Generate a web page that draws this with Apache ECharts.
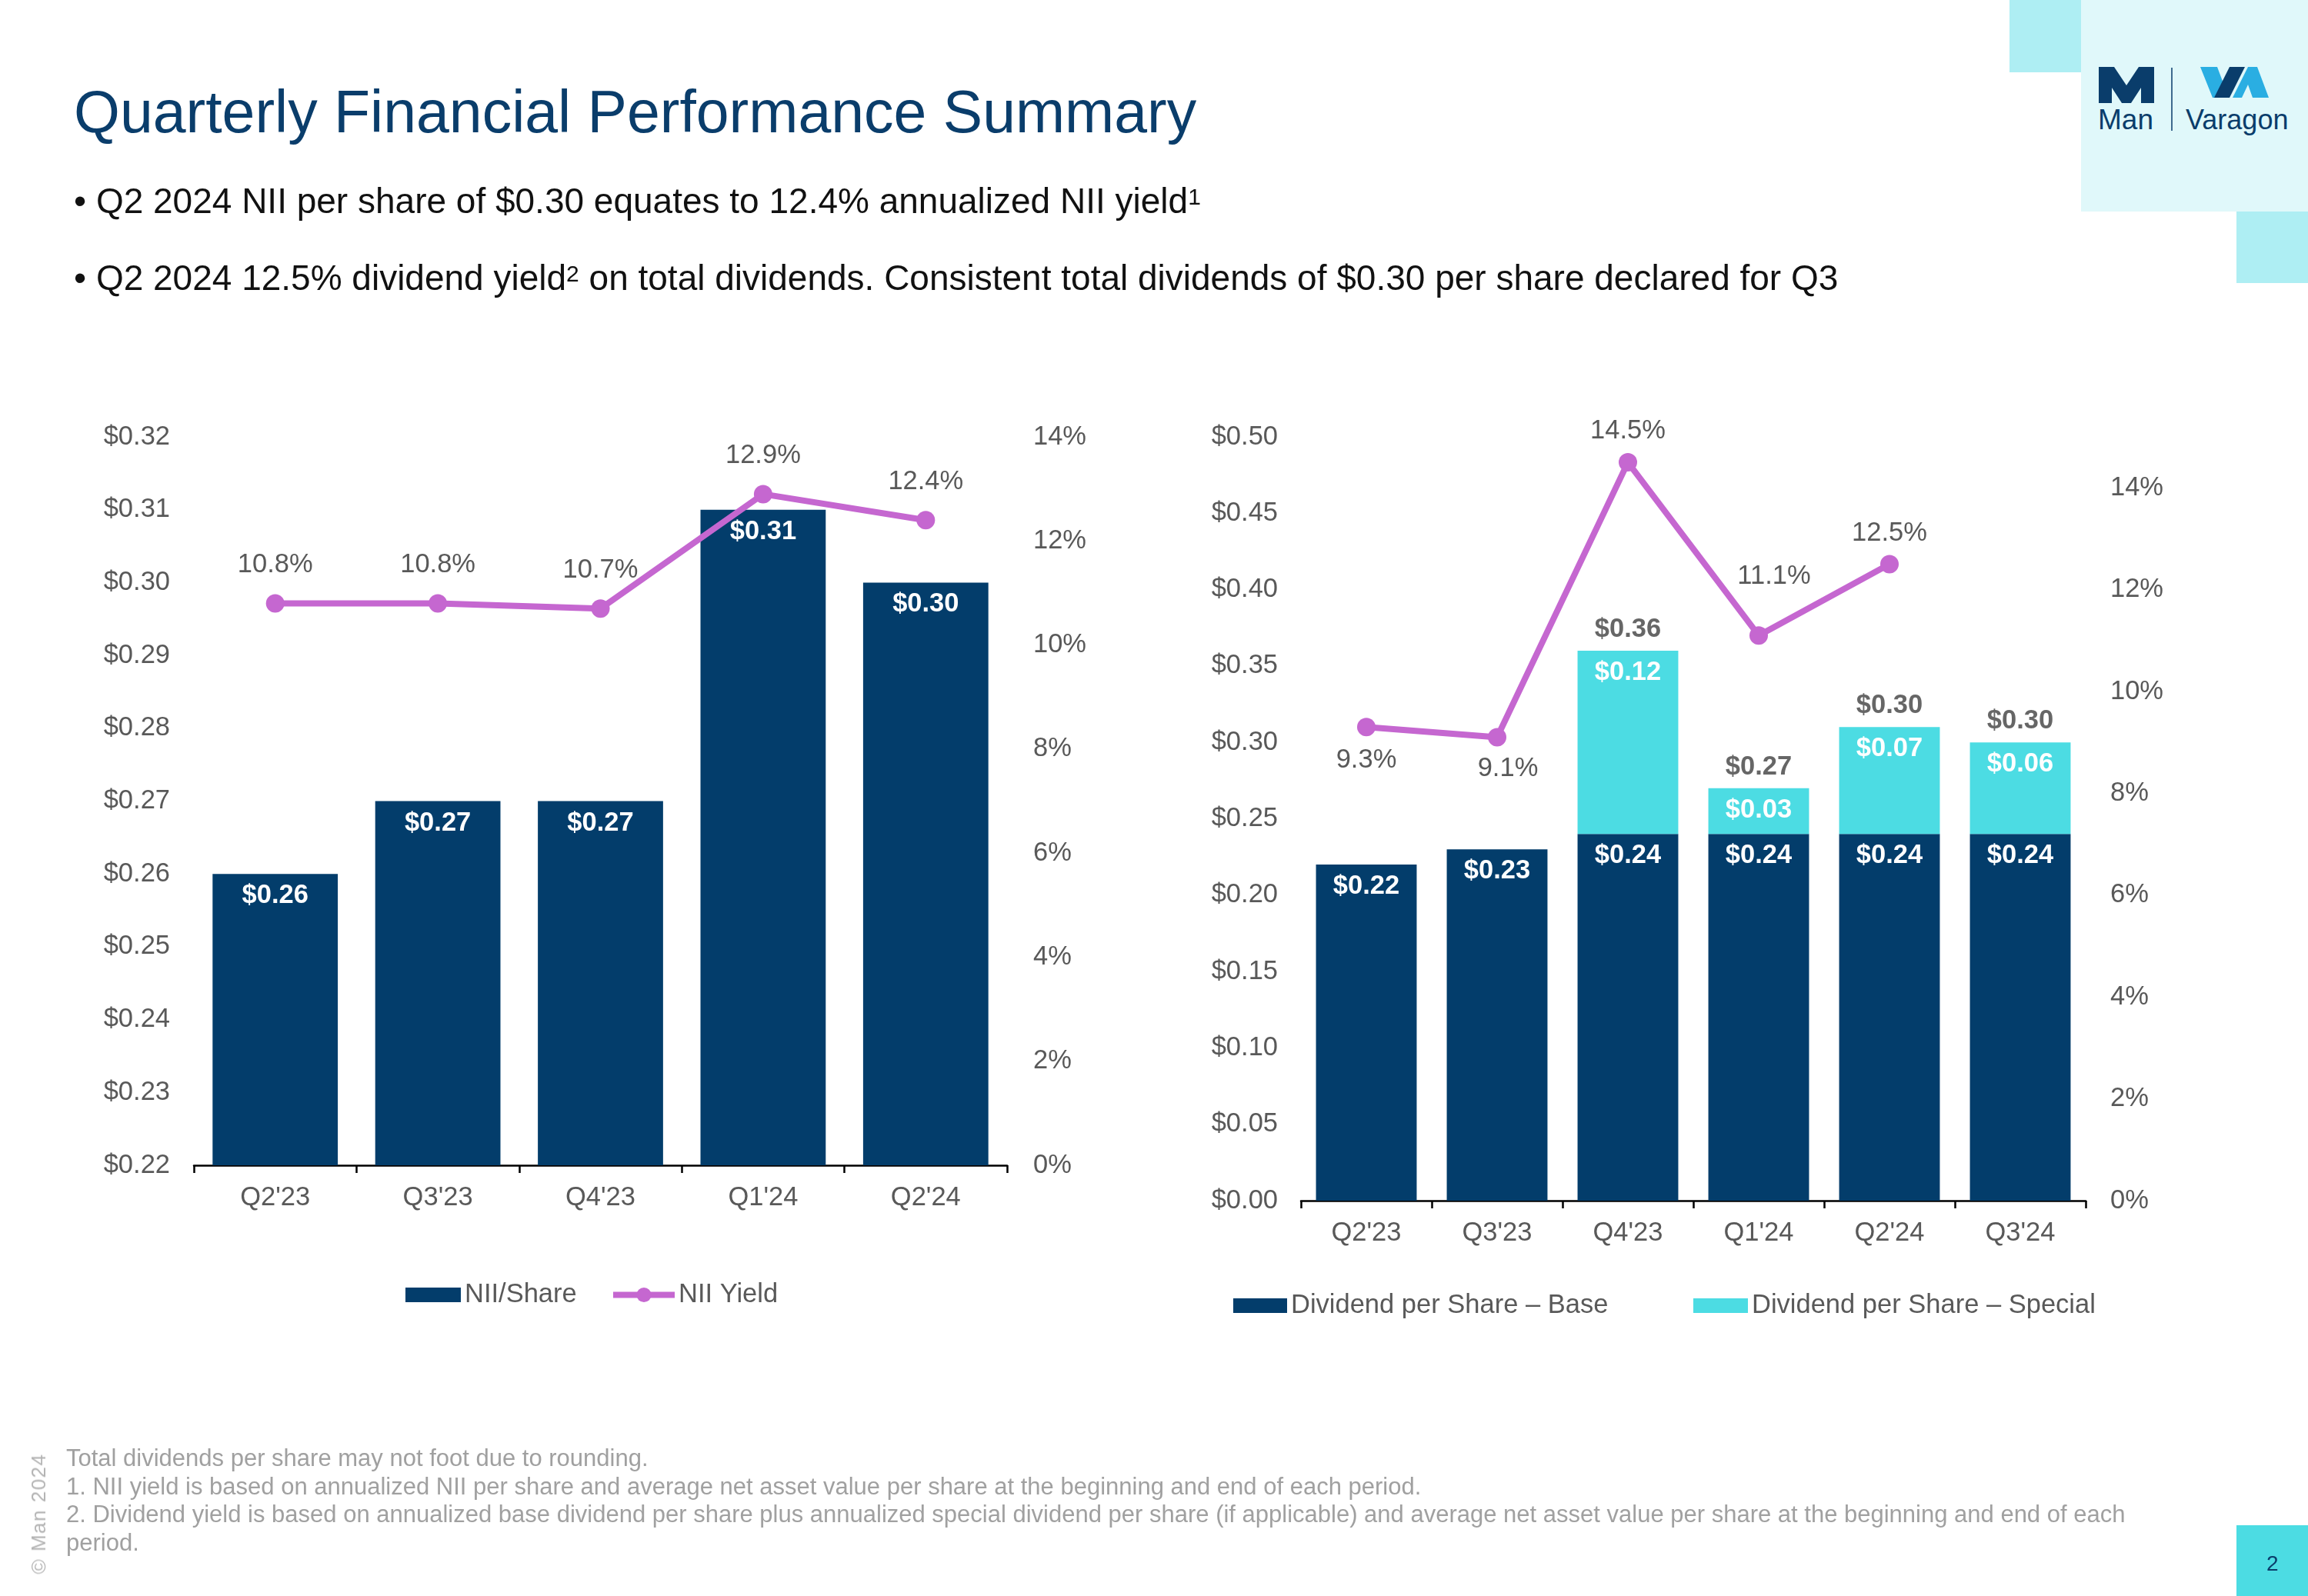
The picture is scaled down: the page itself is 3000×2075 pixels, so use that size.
<!DOCTYPE html>
<html>
<head>
<meta charset="utf-8">
<script src="https://cdn.jsdelivr.net/npm/echarts@6/dist/echarts.min.js"></script>
<style>
  html, body { margin:0; padding:0; }
  body { width:3000px; height:2075px; position:relative; overflow:hidden; background:#fff;
         font-family:"Liberation Sans", Arial, sans-serif; }
  #chart { position:absolute; left:0; top:0; width:3000px; height:2075px; }
  .txt { position:absolute; white-space:nowrap; }
  .title { left:96px; top:107px; font-size:77px; line-height:77px; color:#0a3d6b; }
  .bullet { left:96px; font-size:46px; line-height:46px; color:#111; }
  .bullet sup { font-size:30px; vertical-align:top; position:relative; top:-5px; }
  .footer { left:86px; top:1878px; font-size:31px; line-height:36.6px; color:#a0a0a0; }
  .copy { left:50px; top:1968px; font-size:26px; line-height:26px; color:#b4b4b4;
          transform:translate(-50%,-50%) rotate(-90deg); letter-spacing:1.5px; }
  .pagenum { left:2946px; top:2018px; font-size:28px; line-height:30px; color:#0a3d6b; }
</style>
</head>
<body>
<div id="chart"></div>

<svg style="position:absolute;left:0;top:0" width="3000" height="2075">
  <rect x="2705" y="0" width="295" height="275" fill="#e0f8fa"/>
  <rect x="2612" y="0" width="93" height="94" fill="#aeeef3"/>
  <rect x="2907" y="275" width="93" height="93" fill="#aeeef3"/>
  <rect x="2907" y="1983" width="93" height="92" fill="#4cdce3"/>
  <polygon fill="#0a3d6b" points="2728,87 2748,87 2764,111 2780,87 2800,87 2800,134 2783,134 2783,114 2770,134 2758,134 2745,114 2745,134 2728,134"/>
  <line x1="2823" y1="88" x2="2823" y2="170" stroke="#0a3d6b" stroke-width="1.5"/>
  <polygon fill="#2aaee2" points="2860,87 2882,87 2897,127 2876,127"/>
  <polygon fill="#0a3d6b" points="2878,127 2898,127 2918,87 2898,87"/>
  <polygon fill="#2aaee2" points="2902,127 2922,87 2934,87 2949,127 2928,127 2922,110 2914,127"/>
  <text x="2727" y="168" font-family="Liberation Sans, Arial, sans-serif" font-size="37" fill="#0a3d6b">Man</text>
  <text x="2841" y="168" font-family="Liberation Sans, Arial, sans-serif" font-size="36" fill="#0a3d6b">Varagon</text>
</svg>

<div class="txt title">Quarterly Financial Performance Summary</div>
<div class="txt bullet" style="top:238px">• Q2 2024 NII per share of $0.30 equates to 12.4% annualized NII yield<sup>1</sup></div>
<div class="txt bullet" style="top:338px">• Q2 2024 12.5% dividend yield<sup>2</sup> on total dividends. Consistent total dividends of $0.30 per share declared for Q3</div>
<div class="txt footer">Total dividends per share may not foot due to rounding.<br>1. NII yield is based on annualized NII per share and average net asset value per share at the beginning and end of each period.<br>2. Dividend yield is based on annualized base dividend per share plus annualized special dividend per share (if applicable) and average net asset value per share at the beginning and end of each<br>period.</div>
<div class="txt copy">© Man 2024</div>
<div class="txt pagenum">2</div>

<script>
// ---- Data ----
const niiCategories = ["Q2'23", "Q3'23", "Q4'23", "Q1'24", "Q2'24"];
const niiPerShare   = [0.26, 0.27, 0.27, 0.31, 0.30];
const niiYield      = [10.8, 10.8, 10.7, 12.9, 12.4];

const divCategories = ["Q2'23", "Q3'23", "Q4'23", "Q1'24", "Q2'24", "Q3'24"];
const divBase       = [0.22, 0.23, 0.24, 0.24, 0.24, 0.24];
const divSpecial    = [null, null, 0.12, 0.03, 0.07, 0.06];
const divTotalLabels = ["", "", "$0.36", "$0.27", "$0.30", "$0.30"];
const divYield      = [9.3, 9.1, 14.5, 11.1, 12.5, null];

const niiAxisRange  = { min: 0.22, max: 0.32, interval: 0.01 };
const niiPctRange   = { min: 0, max: 14, interval: 2 };
const divAxisRange  = { min: 0, max: 0.50, interval: 0.05 };
const divPctRange   = { min: 0, max: 15, interval: 2 };

// ---- Styles ----
const FONT = '"Liberation Sans", Arial, sans-serif';
const FS = 34.5;
const NAVY = '#033d6b';
const CYAN = '#4cdce3';
const ORCHID = '#c567d0';
const GRAY = '#595959';

const chart = echarts.init(document.getElementById('chart'), null, { renderer: 'canvas' });

const money = v => '$' + Number(v).toFixed(2);
const pct1 = v => Number(v).toFixed(1) + '%';

const catAxis = (gridIndex, data) => ({
  gridIndex, type: 'category', data,
  axisLine: { show: true, lineStyle: { color: '#000', width: 2.5 } },
  axisTick: { show: true, length: 10, lineStyle: { color: '#000', width: 2.5 } },
  axisLabel: { fontSize: FS, color: GRAY, margin: 25, fontFamily: FONT },
  splitLine: { show: false }
});
const valAxis = (gridIndex, range, position, formatter, margin, showMaxLabel) => ({
  gridIndex, type: 'value', position,
  min: range.min, max: range.max, interval: range.interval,
  axisLine: { show: false }, axisTick: { show: false }, splitLine: { show: false },
  axisLabel: { fontSize: FS, color: GRAY, margin, formatter, fontFamily: FONT, showMaxLabel }
});

const divYieldData = divYield.map((v, i) => {
  if (v == null) return '-';
  const item = { value: v, label: { position: i < 2 ? 'bottom' : 'top', distance: i < 2 ? 14 : 11 } };
  if (i === 1) item.label.offset = [14, -3];
  if (i === 3) item.label.offset = [20, -36];
  return item;
});
const divTotals = divBase.map((b, i) => divSpecial[i] == null ? '-' : +(b + divSpecial[i]).toFixed(2));

const whiteLabel = {
  show: true, position: 'insideTop', distance: 11, color: '#fff',
  fontWeight: 'bold', fontSize: FS, fontFamily: FONT,
  formatter: p => money(p.value)
};
const legendText = { fontSize: FS, color: GRAY, fontFamily: FONT };

chart.setOption({
  animation: false,
  textStyle: { fontFamily: FONT },
  grid: [
    { left: 252, top: 568, width: 1057, height: 947 },
    { left: 1691, top: 568, width: 1020, height: 993 }
  ],
  legend: [
    { data: [{ name: 'NII/Share', icon: 'rect' }], left: 527, top: 1666, padding: 0,
      itemWidth: 72, itemHeight: 19, textStyle: legendText },
    { data: [{ name: 'NII Yield' }], left: 793, top: 1666, padding: 0,
      itemWidth: 80, itemHeight: 24, lineStyle: { width: 8 }, textStyle: legendText },
    { data: [{ name: 'Dividend per Share – Base', icon: 'rect' }], left: 1603, top: 1680, padding: 0,
      itemWidth: 70, itemHeight: 19, textStyle: legendText },
    { data: [{ name: 'Dividend per Share – Special', icon: 'rect' }], left: 2201, top: 1680, padding: 0,
      itemWidth: 71, itemHeight: 19, textStyle: legendText }
  ],
  xAxis: [catAxis(0, niiCategories), catAxis(1, divCategories)],
  yAxis: [
    valAxis(0, niiAxisRange, 'left', money, 31, true),
    valAxis(0, niiPctRange, 'right', v => v + '%', 34, true),
    valAxis(1, divAxisRange, 'left', money, 30, true),
    valAxis(1, divPctRange, 'right', v => v + '%', 32, false)
  ],
  series: [
    {
      name: 'NII/Share', type: 'bar', xAxisIndex: 0, yAxisIndex: 0,
      data: niiPerShare, barCategoryGap: '23%',
      itemStyle: { color: NAVY }, label: whiteLabel
    },
    {
      name: 'NII Yield', type: 'line', xAxisIndex: 0, yAxisIndex: 1,
      data: niiYield, symbol: 'circle', symbolSize: 24, z: 5,
      lineStyle: { width: 8, color: ORCHID }, itemStyle: { color: ORCHID },
      label: { show: true, position: 'top', distance: 20, fontSize: FS, color: GRAY, fontFamily: FONT, formatter: p => pct1(p.value) }
    },
    {
      name: 'Dividend per Share – Base', type: 'bar', xAxisIndex: 1, yAxisIndex: 2, stack: 'div',
      data: divBase, barCategoryGap: '23%',
      itemStyle: { color: NAVY }, label: whiteLabel
    },
    {
      name: 'Dividend per Share – Special', type: 'bar', xAxisIndex: 1, yAxisIndex: 2, stack: 'div',
      data: divSpecial.map(v => v == null ? '-' : v), barCategoryGap: '23%',
      itemStyle: { color: CYAN }, label: whiteLabel
    },
    {
      name: 'Total', type: 'scatter', xAxisIndex: 1, yAxisIndex: 2, silent: true,
      data: divTotals, symbolSize: 0,
      label: { show: true, position: 'top', distance: 10, color: '#404040', fontWeight: 'bold', fontSize: FS, fontFamily: FONT,
               formatter: p => divTotalLabels[p.dataIndex] }
    },
    {
      name: 'Dividend Yield', type: 'line', xAxisIndex: 1, yAxisIndex: 3,
      data: divYieldData, symbol: 'circle', symbolSize: 24, z: 5,
      lineStyle: { width: 8, color: ORCHID }, itemStyle: { color: ORCHID },
      label: { show: true, fontSize: FS, color: GRAY, fontFamily: FONT, formatter: p => pct1(p.value) }
    }
  ]
});
</script>
</body>
</html>
